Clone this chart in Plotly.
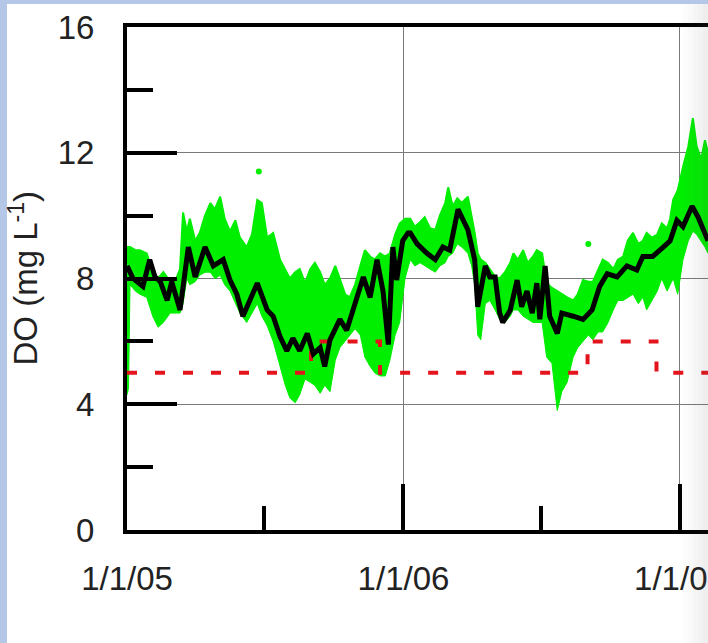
import pandas as pd
import plotly.graph_objects as go

BASE = pd.Timestamp("2005-01-01")

green_day = [0, 2, 4, 11, 17, 26, 34, 41, 48, 57, 65, 70, 74, 79, 83, 90, 96, 103, 110, 116,
             123, 129, 136, 143, 149, 158, 165, 172, 178, 185, 193, 202, 209, 215, 222, 228,
             235, 242, 248, 255, 261, 268, 275, 281, 288, 294, 301, 308, 314, 321, 327, 334,
             341, 347, 354, 360, 367, 374, 380, 387, 393, 400, 407, 413, 420, 424, 430, 436,
             442, 450, 455, 459, 463, 467, 473, 479, 486, 492, 499, 506, 510, 516, 523, 529,
             536, 541, 548, 554, 561, 568, 574, 581, 589, 595, 602, 609, 615, 622, 628, 635,
             642, 648, 655, 661, 668, 675, 681, 686, 693, 700, 706, 713, 717, 721, 727, 734,
             741, 747, 752, 758, 763, 767]
green_hi = [9.0, 9.0, 9.0, 8.9, 8.9, 8.8, 8.2, 8.0, 8.2, 7.9, 8.0, 8.3, 10.1, 9.5, 9.9, 9.2,
            9.45, 10.0, 10.4, 10.2, 10.6, 9.9, 9.5, 9.85, 9.3, 9.0, 9.4, 10.5, 10.4, 9.3,
            9.45, 8.6, 8.3, 8.0, 8.2, 8.3, 7.85, 8.3, 8.5, 8.2, 7.8, 8.0, 8.4, 8.0, 7.5,
            7.4, 7.8, 8.4, 8.9, 8.7, 8.6, 8.8, 8.7, 8.8, 9.4, 9.75, 9.9, 9.9, 9.65, 9.8,
            9.95, 9.6, 9.55, 10.0, 10.4, 10.9, 10.3, 10.55, 10.4, 10.6, 10.0, 9.45, 8.8,
            8.6, 8.5, 8.3, 8.05, 8.0, 8.2, 8.5, 8.8, 8.6, 8.9, 8.5, 8.7, 8.9, 8.8, 7.85,
            7.7, 7.6, 7.5, 7.4, 7.3, 7.5, 7.95, 7.9, 7.9, 8.3, 8.6, 8.5, 8.3, 8.6, 8.7,
            9.2, 9.45, 9.1, 9.2, 9.45, 9.3, 9.4, 9.75, 9.6, 9.9, 10.5, 10.8, 11.55, 12.2,
            13.1, 12.2, 11.8, 12.4, 12.0]
green_lo = [4.3, 4.5, 7.8, 7.6, 7.5, 7.4, 6.8, 6.45, 6.6, 6.9, 6.9, 6.9, 7.2, 8.0, 7.8, 7.9,
            8.1, 8.2, 8.2, 8.0, 8.1, 7.8, 7.6, 7.2, 6.9, 6.6, 6.9, 7.2, 6.8, 6.5, 6.0, 5.2,
            4.6, 4.2, 4.05, 4.3, 4.8, 4.7, 4.6, 4.35, 4.6, 4.4, 5.4, 5.8, 6.0, 6.2, 6.4,
            6.2, 5.5, 5.2, 5.0, 4.9, 4.9, 5.4, 6.2, 6.6, 8.0, 8.6, 8.4, 8.5, 8.4, 8.3, 8.2,
            8.4, 8.5, 8.7, 8.8, 9.1, 9.0, 8.8, 8.4, 7.8, 6.2, 6.05, 7.2, 7.3, 7.0, 6.7,
            6.6, 6.8, 7.0, 7.0, 6.8, 6.7, 6.6, 6.6, 6.6, 5.5, 5.3, 3.8, 4.4, 4.7, 5.5,
            5.8, 6.0, 6.2, 6.05, 6.3, 6.3, 6.6, 7.0, 7.3, 7.3, 7.4, 7.5, 7.2, 7.4, 7.0,
            7.3, 7.6, 8.0, 7.6, 7.8, 8.0, 7.5, 8.6, 9.2, 9.5, 9.4, 9.2, 9.0, 8.8]
green_dot_day = [174, 609]
green_dot_val = [11.4, 9.1]

# ---- black: daily mean DO ----
mean_day = [0, 8, 21, 30, 37, 44, 53, 59, 70, 81, 90, 103, 114, 127, 136, 145, 153, 162, 172,
            185, 193, 202, 211, 219, 228, 238, 246, 255, 261, 268, 281, 290, 298, 312, 321,
            330, 338, 345, 351, 356, 364, 371, 374, 383, 396, 407, 417, 426, 437, 444, 450,
            459, 463, 473, 479, 486, 492, 496, 506, 515, 521, 528, 535, 541, 545, 552, 558,
            568, 574, 589, 602, 614, 624, 634, 647, 660, 673, 681, 694, 708, 717, 726, 734,
            746, 754, 767]
mean_val = [8.4, 8.0, 7.75, 8.6, 8.05, 7.9, 7.3, 7.9, 7.0, 9.0, 8.05, 9.0, 8.4, 8.6, 7.95,
            7.5, 6.8, 7.3, 7.85, 7.0, 6.8, 6.15, 5.7, 6.1, 5.7, 6.25, 5.6, 5.8, 5.2, 6.05,
            6.7, 6.35, 7.0, 8.05, 7.4, 8.6, 7.6, 5.9, 9.0, 7.95, 9.2, 9.45, 9.45, 9.1, 8.8,
            8.6, 9.0, 8.9, 10.2, 9.85, 9.55, 8.6, 7.1, 8.4, 8.05, 8.05, 6.9, 6.6, 7.0, 7.95,
            7.1, 7.6, 6.9, 7.85, 6.7, 8.4, 6.8, 6.25, 6.9, 6.8, 6.7, 7.0, 7.75, 8.15, 8.05,
            8.4, 8.27, 8.7, 8.7, 9.0, 9.2, 9.85, 9.65, 10.3, 9.95, 9.2]

# ---- red dashed: DO standard ----
std_dates = ["2005-01-01", "2005-09-01", "2005-12-01", "2006-09-01", "2006-12-01", "2007-03-01"]
std_vals = [5, 6, 5, 6, 5, 5]

x_tick_fmt = "%-m/%-d/%y"
y_title = "DO (mg L<sup>-1</sup>)"


def to_dates(days):
    return BASE + pd.to_timedelta(days, unit="D")


W, H = 708, 643
ML, MR, MT, MB = 127, 0, 27, 113
PW, PH = W - ML - MR, H - MT - MB

fig = go.Figure()
fig.add_trace(go.Scatter(x=to_dates(green_day), y=green_lo, mode="lines",
                         line=dict(color="#00ee00", width=1), showlegend=False, hoverinfo="skip"))
fig.add_trace(go.Scatter(x=to_dates(green_day), y=green_hi, mode="lines", fill="tonexty",
                         fillcolor="#00ee00", line=dict(color="#00ee00", width=2),
                         showlegend=False))
fig.add_trace(go.Scatter(x=to_dates(green_dot_day), y=green_dot_val, mode="markers",
                         marker=dict(color="#00ee00", size=6), showlegend=False))
fig.add_trace(go.Scatter(x=pd.to_datetime(std_dates), y=std_vals, mode="lines",
                         line=dict(color="#e3141c", width=4, dash="10px,18px", shape="hv"),
                         showlegend=False))
fig.add_trace(go.Scatter(x=to_dates(mean_day), y=mean_val, mode="lines",
                         line=dict(color="black", width=5), showlegend=False))

x_end = BASE + pd.Timedelta(days=767)
font = dict(family="Liberation Sans, Arial, sans-serif", size=33, color="#222")

fig.update_xaxes(type="date", range=[BASE, x_end], tick0="2005-01-01", dtick="M12",
                 tickformat=x_tick_fmt, ticks="inside", ticklen=46, tickwidth=3.5,
                 tickcolor="black", showgrid=True, gridcolor="#7a7a7a", gridwidth=1,
                 showline=True, linewidth=4, linecolor="black", mirror=True,
                 zeroline=False, tickfont=font, ticklabelstandoff=16,
                 ticklabeloverflow="allow", automargin=False,
                 minor=dict(tick0="2005-01-01", dtick="M6", ticks="inside", ticklen=24,
                            tickwidth=3.5, tickcolor="black", showgrid=False))
fig.update_yaxes(range=[0, 16], tick0=0, dtick=4, ticks="inside", ticklen=50, tickwidth=3.5,
                 tickcolor="black", showgrid=True, gridcolor="#7a7a7a", gridwidth=1,
                 showline=True, linewidth=4, linecolor="black", mirror=False,
                 zeroline=False, tickfont=font, ticklabelstandoff=22,
                 ticklabeloverflow="allow", automargin=False,
                 minor=dict(dtick=2, ticks="inside", ticklen=26, tickwidth=3.5,
                            tickcolor="black", showgrid=False))


def px_x(p):
    return (p - ML) / PW


def px_y(p):
    return (H - MB - p) / PH


shapes = [
    dict(type="rect", xref="paper", yref="paper", x0=px_x(0), x1=px_x(7), y0=px_y(H), y1=px_y(0),
         fillcolor="#b4c7e7", line_width=0, layer="below"),
    dict(type="rect", xref="paper", yref="paper", x0=px_x(0), x1=px_x(W), y0=px_y(4), y1=px_y(0),
         fillcolor="#b4c7e7", line_width=0, layer="below"),
]
for i, a in enumerate([0.02, 0.04, 0.06, 0.08, 0.10]):
    shapes.append(dict(type="rect", xref="paper", yref="paper",
                       x0=px_x(683 + 5 * i), x1=px_x(688 + 5 * i), y0=px_y(H), y1=px_y(4),
                       fillcolor=f"rgba(90,90,90,{a})", line_width=0, layer="above"))

fig.update_layout(
    width=W, height=H, margin=dict(l=ML, r=MR, t=MT, b=MB),
    paper_bgcolor="white", plot_bgcolor="white", showlegend=False,
    shapes=shapes,
    annotations=[dict(text=y_title, xref="paper", yref="paper", x=px_x(23), y=0.5,
                      xanchor="center", yanchor="middle", textangle=-90, showarrow=False,
                      font=dict(family="Liberation Sans, Arial, sans-serif", size=33,
                                color="#222"))],
)

fig.write_html("out.html", config={"displayModeBar": False},
               post_script="document.body.style.margin='0';")
